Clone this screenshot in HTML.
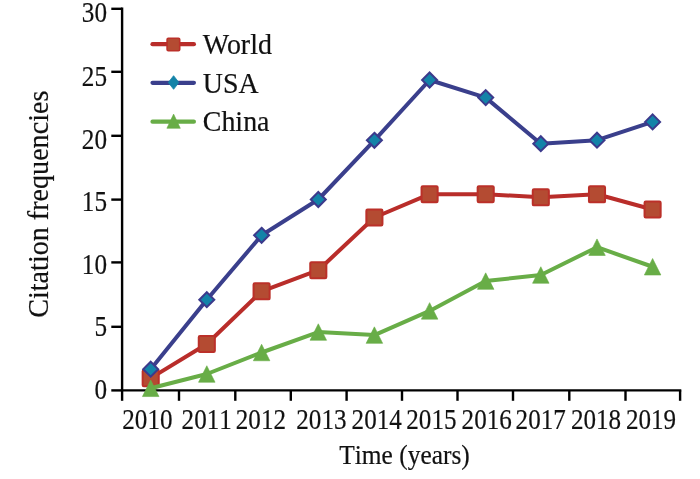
<!DOCTYPE html>
<html><head><meta charset="utf-8"><style>
html,body{margin:0;padding:0;background:#fff;overflow:hidden;}
svg{display:block;filter:blur(0.4px);}
text{font-family:"Liberation Serif", serif;fill:#111;font-kerning:none;stroke:#111;stroke-width:0.2px;}
text.k{font-kerning:normal;}
</style></head><body>
<svg width="700" height="479" viewBox="0 0 700 479">
<path d="M122.1,7.5 V390.4" stroke="#000" stroke-width="2.4" fill="none"/>
<path d="M120.89999999999999,390.4 H681.3" stroke="#000" stroke-width="2.4" fill="none"/>
<path d="M111.3,8.8 H122.1" stroke="#000" stroke-width="2.4"/>
<path d="M111.3,71.8 H122.1" stroke="#000" stroke-width="2.4"/>
<path d="M111.3,135.8 H122.1" stroke="#000" stroke-width="2.4"/>
<path d="M111.3,199.6 H122.1" stroke="#000" stroke-width="2.4"/>
<path d="M111.3,262.4 H122.1" stroke="#000" stroke-width="2.4"/>
<path d="M111.3,326.8 H122.1" stroke="#000" stroke-width="2.4"/>
<path d="M111.3,390.4 H122.1" stroke="#000" stroke-width="2.4"/>
<path d="M122.1,390.4 V400.8" stroke="#000" stroke-width="2.4"/>
<path d="M179.0,390.4 V400.8" stroke="#000" stroke-width="2.4"/>
<path d="M235.3,390.4 V400.8" stroke="#000" stroke-width="2.4"/>
<path d="M290.8,390.4 V400.8" stroke="#000" stroke-width="2.4"/>
<path d="M346.6,390.4 V400.8" stroke="#000" stroke-width="2.4"/>
<path d="M402.0,390.4 V400.8" stroke="#000" stroke-width="2.4"/>
<path d="M457.5,390.4 V400.8" stroke="#000" stroke-width="2.4"/>
<path d="M513,390.4 V400.8" stroke="#000" stroke-width="2.4"/>
<path d="M569.3,390.4 V400.8" stroke="#000" stroke-width="2.4"/>
<path d="M625.5,390.4 V400.8" stroke="#000" stroke-width="2.4"/>
<path d="M680.1,390.4 V400.8" stroke="#000" stroke-width="2.4"/>
<text transform="translate(107.0,21.9) scale(0.86,1)" text-anchor="end" font-size="29.3">30</text>
<text transform="translate(107.0,85.7) scale(0.86,1)" text-anchor="end" font-size="29.3">25</text>
<text transform="translate(107.0,148.5) scale(0.86,1)" text-anchor="end" font-size="29.3">20</text>
<text transform="translate(107.0,211.0) scale(0.86,1)" text-anchor="end" font-size="29.3">15</text>
<text transform="translate(107.0,273.9) scale(0.86,1)" text-anchor="end" font-size="29.3">10</text>
<text transform="translate(107.0,335.9) scale(0.86,1)" text-anchor="end" font-size="29.3">5</text>
<text transform="translate(107.0,399.2) scale(0.86,1)" text-anchor="end" font-size="29.3">0</text>
<text transform="translate(147.4,428.6) scale(0.857,1)" text-anchor="middle" font-size="29.3">2010</text>
<text transform="translate(206.7,428.6) scale(0.857,1)" text-anchor="middle" font-size="29.3">2011</text>
<text transform="translate(260.9,428.6) scale(0.857,1)" text-anchor="middle" font-size="29.3">2012</text>
<text transform="translate(321.4,428.6) scale(0.857,1)" text-anchor="middle" font-size="29.3">2013</text>
<text transform="translate(376.7,428.6) scale(0.857,1)" text-anchor="middle" font-size="29.3">2014</text>
<text transform="translate(431.4,428.6) scale(0.857,1)" text-anchor="middle" font-size="29.3">2015</text>
<text transform="translate(486.7,428.6) scale(0.857,1)" text-anchor="middle" font-size="29.3">2016</text>
<text transform="translate(540.7,428.6) scale(0.857,1)" text-anchor="middle" font-size="29.3">2017</text>
<text transform="translate(596,428.6) scale(0.857,1)" text-anchor="middle" font-size="29.3">2018</text>
<text transform="translate(651,428.6) scale(0.857,1)" text-anchor="middle" font-size="29.3">2019</text>
<text transform="translate(404.5,464.4) scale(0.955,1)" text-anchor="middle" font-size="26.6">Time (years)</text>
<text transform="translate(48.2,204.2) rotate(-90) scale(0.99,1)" text-anchor="middle" font-size="28.4">Citation frequencies</text>
<polyline points="150.7,378.1 206.8,344.0 261.6,291.3 318.3,270.2 374.4,217.5 429.6,194.2 485.7,194.2 540.8,197.3 597.0,194.3 652.6,209.5" fill="none" stroke="#b92d2a" stroke-width="4.0" stroke-linejoin="round"/>
<rect x="142.65" y="370.05" width="16.1" height="16.1" rx="1.2" fill="#b44b32" stroke="#bb3029" stroke-width="2.0"/>
<rect x="198.75" y="335.95" width="16.1" height="16.1" rx="1.2" fill="#b44b32" stroke="#bb3029" stroke-width="2.0"/>
<rect x="253.55" y="283.25" width="16.1" height="16.1" rx="1.2" fill="#b44b32" stroke="#bb3029" stroke-width="2.0"/>
<rect x="310.25" y="262.15" width="16.1" height="16.1" rx="1.2" fill="#b44b32" stroke="#bb3029" stroke-width="2.0"/>
<rect x="366.35" y="209.45" width="16.1" height="16.1" rx="1.2" fill="#b44b32" stroke="#bb3029" stroke-width="2.0"/>
<rect x="421.55" y="186.15" width="16.1" height="16.1" rx="1.2" fill="#b44b32" stroke="#bb3029" stroke-width="2.0"/>
<rect x="477.65" y="186.15" width="16.1" height="16.1" rx="1.2" fill="#b44b32" stroke="#bb3029" stroke-width="2.0"/>
<rect x="532.75" y="189.25" width="16.1" height="16.1" rx="1.2" fill="#b44b32" stroke="#bb3029" stroke-width="2.0"/>
<rect x="588.95" y="186.25" width="16.1" height="16.1" rx="1.2" fill="#b44b32" stroke="#bb3029" stroke-width="2.0"/>
<rect x="644.55" y="201.45" width="16.1" height="16.1" rx="1.2" fill="#b44b32" stroke="#bb3029" stroke-width="2.0"/>
<polyline points="150.7,369.2 206.8,299.7 261.6,235.3 318.3,199.5 374.4,140.3 429.6,80.0 485.7,97.6 540.8,143.7 597.0,140.2 652.6,121.9" fill="none" stroke="#3a3f8c" stroke-width="4.0" stroke-linejoin="round"/>
<polygon points="150.7,361.70 158.20,369.2 150.7,376.70 143.20,369.2" fill="#1383a8" stroke="#3c3a8c" stroke-width="2.0" stroke-linejoin="miter"/>
<polygon points="206.8,292.20 214.30,299.7 206.8,307.20 199.30,299.7" fill="#1383a8" stroke="#3c3a8c" stroke-width="2.0" stroke-linejoin="miter"/>
<polygon points="261.6,227.80 269.10,235.3 261.6,242.80 254.10,235.3" fill="#1383a8" stroke="#3c3a8c" stroke-width="2.0" stroke-linejoin="miter"/>
<polygon points="318.3,192.00 325.80,199.5 318.3,207.00 310.80,199.5" fill="#1383a8" stroke="#3c3a8c" stroke-width="2.0" stroke-linejoin="miter"/>
<polygon points="374.4,132.80 381.90,140.3 374.4,147.80 366.90,140.3" fill="#1383a8" stroke="#3c3a8c" stroke-width="2.0" stroke-linejoin="miter"/>
<polygon points="429.6,72.50 437.10,80.0 429.6,87.50 422.10,80.0" fill="#1383a8" stroke="#3c3a8c" stroke-width="2.0" stroke-linejoin="miter"/>
<polygon points="485.7,90.10 493.20,97.6 485.7,105.10 478.20,97.6" fill="#1383a8" stroke="#3c3a8c" stroke-width="2.0" stroke-linejoin="miter"/>
<polygon points="540.8,136.20 548.30,143.7 540.8,151.20 533.30,143.7" fill="#1383a8" stroke="#3c3a8c" stroke-width="2.0" stroke-linejoin="miter"/>
<polygon points="597.0,132.70 604.50,140.2 597.0,147.70 589.50,140.2" fill="#1383a8" stroke="#3c3a8c" stroke-width="2.0" stroke-linejoin="miter"/>
<polygon points="652.6,114.40 660.10,121.9 652.6,129.40 645.10,121.9" fill="#1383a8" stroke="#3c3a8c" stroke-width="2.0" stroke-linejoin="miter"/>
<polyline points="150.7,388.3 206.8,374.0 261.6,352.5 318.3,332.05 374.4,335.1 429.6,310.9 485.7,281.1 540.8,275.0 597.0,247.2 652.6,266.75" fill="none" stroke="#68ad47" stroke-width="4.0" stroke-linejoin="round"/>
<polygon points="150.7,380.05 158.95,396.55 142.45,396.55" fill="#68ad47" stroke="#68ad47" stroke-width="0.6" stroke-linejoin="round"/>
<polygon points="206.8,365.75 215.05,382.25 198.55,382.25" fill="#68ad47" stroke="#68ad47" stroke-width="0.6" stroke-linejoin="round"/>
<polygon points="261.6,344.25 269.85,360.75 253.35,360.75" fill="#68ad47" stroke="#68ad47" stroke-width="0.6" stroke-linejoin="round"/>
<polygon points="318.3,323.80 326.55,340.30 310.05,340.30" fill="#68ad47" stroke="#68ad47" stroke-width="0.6" stroke-linejoin="round"/>
<polygon points="374.4,326.85 382.65,343.35 366.15,343.35" fill="#68ad47" stroke="#68ad47" stroke-width="0.6" stroke-linejoin="round"/>
<polygon points="429.6,302.65 437.85,319.15 421.35,319.15" fill="#68ad47" stroke="#68ad47" stroke-width="0.6" stroke-linejoin="round"/>
<polygon points="485.7,272.85 493.95,289.35 477.45,289.35" fill="#68ad47" stroke="#68ad47" stroke-width="0.6" stroke-linejoin="round"/>
<polygon points="540.8,266.75 549.05,283.25 532.55,283.25" fill="#68ad47" stroke="#68ad47" stroke-width="0.6" stroke-linejoin="round"/>
<polygon points="597.0,238.95 605.25,255.45 588.75,255.45" fill="#68ad47" stroke="#68ad47" stroke-width="0.6" stroke-linejoin="round"/>
<polygon points="652.6,258.50 660.85,275.00 644.35,275.00" fill="#68ad47" stroke="#68ad47" stroke-width="0.6" stroke-linejoin="round"/>
<path d="M152.5,44.2 H193.9" stroke="#b92d2a" stroke-width="4.2" stroke-linecap="round"/>
<rect x="167.10" y="38.20" width="12.6" height="12.6" rx="1.2" fill="#b44b32" stroke="#bb3029" stroke-width="1.6"/>
<path d="M152.5,82.8 H193.9" stroke="#3a3f8c" stroke-width="4.2" stroke-linecap="round"/>
<polygon points="173.6,75.70 178.90,82.5 173.6,89.30 168.30,82.5" fill="#1383a8" stroke="#1383a8" stroke-width="0.8" stroke-linejoin="miter"/>
<path d="M152.5,121.7 H193.9" stroke="#68ad47" stroke-width="4.2" stroke-linecap="round"/>
<polygon points="173.6,114.10 180.30,128.30 166.90,128.30" fill="#68ad47" stroke="#68ad47" stroke-width="0.6" stroke-linejoin="round"/>
<text class="k" transform="translate(202.8,54.3) scale(0.963,1)" text-anchor="start" font-size="29">World</text>
<text class="k" transform="translate(202.8,92.6) scale(0.963,1)" text-anchor="start" font-size="29">USA</text>
<text class="k" transform="translate(202.8,131.1) scale(0.963,1)" text-anchor="start" font-size="29">China</text>
</svg>
</body></html>
